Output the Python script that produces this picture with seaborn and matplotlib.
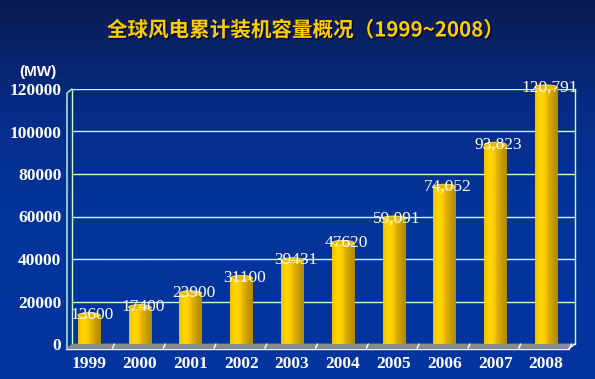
import numpy as np
import pandas as pd
import matplotlib
matplotlib.use("Agg")
import matplotlib.pyplot as plt
import seaborn as sns
from matplotlib.colors import LinearSegmentedColormap
from matplotlib.patches import Ellipse, Polygon
from matplotlib.lines import Line2D
import matplotlib.patheffects as pe

# data
years = ["1999", "2000", "2001", "2002", "2003", "2004", "2005", "2006", "2007", "2008"]
capacity = [13600, 17400, 23900, 31100, 39431, 47620, 59091, 74052, 93823, 120791]
value_labels = ["13600", "17400", "23900", "31100", "39431", "47620",
                "59,091", "74,052", "93,823", "120,791"]
y_ticks = [0, 20000, 40000, 60000, 80000, 100000, 120000]

df = pd.DataFrame({"year": years, "capacity": capacity})

sns.set_style("white")
plt.rcParams["font.family"] = ["Liberation Serif", "DejaVu Serif"]

W, H = 595, 379
fig = plt.figure(figsize=(W / 100, H / 100), dpi=100)

# blue gradient background
bg = fig.add_axes([0, 0, 1, 1], zorder=-10)
bg_cmap = LinearSegmentedColormap.from_list(
    "bg", [(0, "#0a1b50"), (0.3, "#062c88"), (0.55, "#03349a"), (1, "#0335a0")])
bg.imshow(np.linspace(0, 1, 256).reshape(-1, 1), aspect="auto", cmap=bg_cmap,
          extent=[0, 1, 0, 1])
bg.axis("off")

def fx(px):
    return px / W

def fy(py):
    return 1 - py / H

grid_col = "#ccffcc"
ax = fig.add_axes([fx(72), fy(344), fx(575) - fx(72), fy(89) - fy(344)])
ax.patch.set_alpha(0)

sns.barplot(data=df, x="year", y="capacity", width=0.44, color="#ffcc00",
            saturation=1, ax=ax, zorder=3, linewidth=0)

# cylinder shading on each bar
bar_cmap = LinearSegmentedColormap.from_list(
    "bar", ["#f0c000", "#ffd600", "#ffcf00", "#e0b000", "#c49a00", "#b08a00"])
grad = np.linspace(0, 1, 64).reshape(1, -1)
cap_h = 2300
for patch, lab in zip(ax.patches, value_labels):
    patch.set_clip_on(False)
    x0, w, h = patch.get_x(), patch.get_width(), patch.get_height()
    im = ax.imshow(grad, extent=[x0, x0 + w, 0, h], aspect="auto",
                   cmap=bar_cmap, zorder=3.5)
    im.set_clip_path(patch)
    ax.add_patch(Ellipse((x0 + w / 2, h), w, cap_h, facecolor="#e8b800",
                         edgecolor="#ffe060", lw=0.6, zorder=4, clip_on=False))
    ax.annotate(lab, (x0 + w / 2, h), xytext=(2.5, 0), textcoords="offset points",
                ha="center", va="center", color="white", fontsize=12.5, zorder=6,
                annotation_clip=False)

ax.set_xlim(-0.334, 9.57)
ax.set_ylim(0, 120000)
ax.set_yticks(y_ticks)
ax.set_xlabel("")
ax.set_ylabel("")
ax.yaxis.grid(True, color=grid_col, lw=1)
ax.set_axisbelow(True)
for side in ["bottom", "top"]:
    ax.spines[side].set_visible(False)
for side in ["left", "right"]:
    ax.spines[side].set_color(grid_col)
    ax.spines[side].set_linewidth(1)
ax.tick_params(axis="y", colors=grid_col, length=3.6, width=1, pad=4,
               labelcolor="white", labelsize=12.5)
ax.tick_params(axis="x", length=0, pad=9, labelcolor="white", labelsize=12.5)
for t in ax.get_xticklabels() + ax.get_yticklabels():
    t.set_fontweight("bold")

# floor and front edge of the left wall, in figure pixels
floor = Polygon([(fx(72), fy(344)), (fx(575), fy(344)), (fx(569), fy(348.5)),
                 (fx(66), fy(348.5))], closed=True, transform=fig.transFigure,
                facecolor="#8c8c8c", edgecolor="none", zorder=1)
fig.add_artist(floor)
fig.add_artist(Line2D([fx(66), fx(569)], [fy(348.5), fy(348.5)], color="white",
                      lw=1, transform=fig.transFigure))
fig.add_artist(Line2D([fx(569), fx(575)], [fy(348.5), fy(344)], color="white",
                      lw=1, transform=fig.transFigure))
fig.add_artist(Line2D([fx(67), fx(67), fx(72)], [fy(348), fy(93), fy(89)],
                      color=grid_col, lw=1, transform=fig.transFigure))
for i in range(10):
    bx = 72 + (i + 0.5 + 0.334) * (503 / 9.904) - 2
    fig.add_artist(Line2D([fx(bx + 2), fx(bx)], [fy(344), fy(348.5)], color="white",
                          lw=1, transform=fig.transFigure, zorder=2))

fig.text(fx(305), fy(30), "全球风电累计装机容量概况（1999~2008）",
         family=["Noto Sans CJK SC", "DejaVu Sans"], fontweight="bold",
         fontsize=14.8, color="#ffcc00", ha="center", va="center",
         path_effects=[pe.withSimplePatchShadow(offset=(1, -1),
                                                shadow_rgbFace="#000020", alpha=0.8)])
fig.text(fx(38), fy(72), "(MW)", family=["Liberation Sans", "DejaVu Sans"],
         fontweight="bold", fontsize=11, color="white", ha="center", va="center")

fig.savefig("out.png", dpi=100)
